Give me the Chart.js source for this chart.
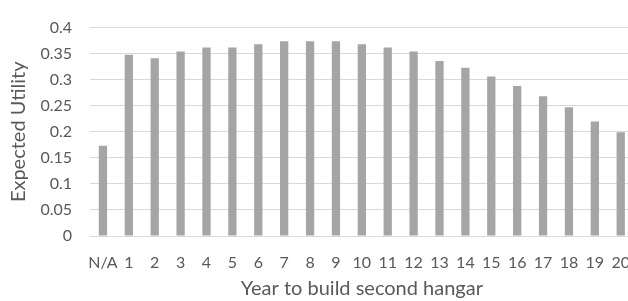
<!DOCTYPE html>
<html>
<head>
<meta charset="utf-8">
<script src="https://cdn.jsdelivr.net/npm/chart.js@4.4.0/dist/chart.umd.min.js"></script>
<style>
  html, body { margin: 0; padding: 0; background: #fff; overflow: hidden; }
  #wrap { width: 647px; height: 301px; position: relative; }
</style>
</head>
<body>
<div id="wrap"><canvas id="myChart"></canvas></div>
<script>
// values
const years = ['N/A', '1', '2', '3', '4', '5', '6', '7', '8', '9', '10',
  '11', '12', '13', '14', '15', '16', '17', '18', '19', '20'];
const expectedUtility = [0.173, 0.348, 0.341, 0.354, 0.362, 0.362, 0.368, 0.374, 0.374, 0.374, 0.368,
  0.362, 0.354, 0.336, 0.323, 0.306, 0.288, 0.268, 0.247, 0.220, 0.199];
const yTicks = [0, 0.05, 0.1, 0.15, 0.2, 0.25, 0.3, 0.35, 0.4];

const textColor = '#595959';
const tickFont = { family: 'Lato, "Open Sans", sans-serif', size: 16 };
const xTitleFont = { family: 'Lato, "Open Sans", sans-serif', size: 20 };
const yTitleFont = { family: 'Lato, "Open Sans", sans-serif', size: 20 };

const ctx = document.getElementById('myChart').getContext('2d');
const myChart = new Chart(ctx, {
  type: 'bar',
  data: {
    labels: years,
    datasets: [{
      data: expectedUtility,
      backgroundColor: '#a5a5a5',
      borderWidth: 0,
      categoryPercentage: 1,
      barPercentage: 0.32
    }]
  },
  options: {
    responsive: true,
    maintainAspectRatio: false,
    animation: false,
    layout: { padding: { top: 20, left: 0, right: 0, bottom: 0 } },
    plugins: {
      legend: { display: false },
      tooltip: { enabled: false }
    },
    scales: {
      x: {
        grid: { display: false, drawTicks: false },
        border: { display: false },
        ticks: { color: textColor, font: tickFont, padding: 17, autoSkip: false, maxRotation: 0 },
        title: { display: true, text: 'Year to build second hangar', color: textColor, font: xTitleFont, padding: { top: 5, bottom: 0 } },
        afterFit: (scale) => { scale.height = 65; }
      },
      y: {
        min: 0,
        max: 0.4,
        afterBuildTicks: (scale) => { scale.ticks = yTicks.map(v => ({ value: v })); },
        grid: { color: '#d9d9d9', lineWidth: 1, drawTicks: false },
        border: { display: false },
        ticks: { color: textColor, font: tickFont, padding: 18, callback: (v) => String(v) },
        title: { display: true, text: 'Expected Utility', color: textColor, font: yTitleFont, padding: { top: 7, bottom: 0 } },
        afterFit: (scale) => { scale.width = 90; }
      }
    }
  }
});
</script>
</body>
</html>
